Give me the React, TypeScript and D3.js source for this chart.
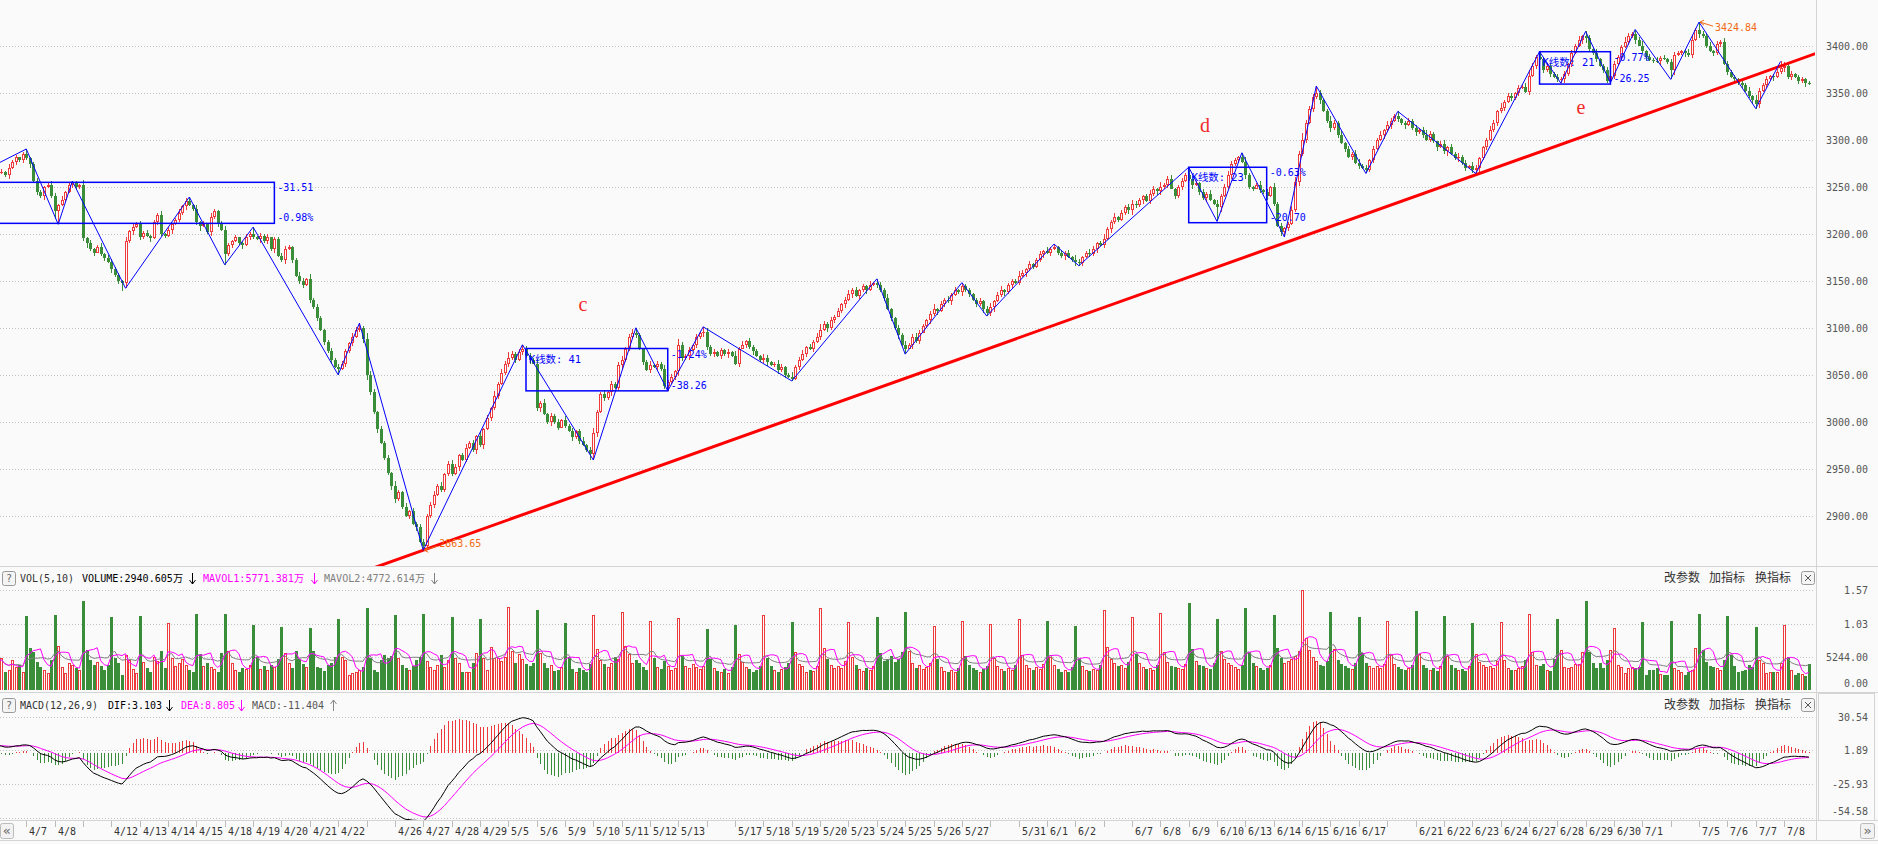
import React, { useMemo } from 'react';
import * as d3 from 'd3';

// ---------------- DATA ----------------
const dates = ['4/6','4/7','4/8','4/11','4/12','4/13','4/14','4/15','4/18','4/19','4/20','4/21','4/22','4/25','4/26','4/27','4/28','4/29','5/5','5/6','5/9','5/10','5/11','5/12','5/13','5/16','5/17','5/18','5/19','5/20','5/23','5/24','5/25','5/26','5/27','5/30','5/31','6/1','6/2','6/6','6/7','6/8','6/9','6/10','6/13','6/14','6/15','6/16','6/17','6/20','6/21','6/22','6/23','6/24','6/27','6/28','6/29','6/30','7/1','7/4','7/5','7/6','7/7','7/8'];
const hiddenDates = ['4/6','4/11','4/25','5/16','5/30','6/6','6/20','7/4'];
const BARS_PER_DAY = 8;

// 30-minute closes, one row per trading day
const closeRows: number[][] = [
  [3264,3266,3262,3270,3276,3281,3278,3285],
  [3280,3274,3256,3244,3240,3250,3252,3240],
  [3224,3230,3236,3244,3252,3254,3250,3252],
  [3195,3190,3184,3180,3186,3178,3174,3170],
  [3162,3156,3150,3148,3192,3203,3207,3210],
  [3196,3201,3198,3195,3212,3220,3200,3198],
  [3204,3210,3215,3222,3229,3235,3230,3226],
  [3212,3208,3210,3202,3218,3224,3210,3204],
  [3178,3188,3192,3196,3190,3188,3196,3200],
  [3197,3194,3198,3192,3196,3184,3194,3176],
  [3172,3184,3186,3172,3155,3150,3146,3152],
  [3130,3122,3110,3098,3085,3075,3066,3058],
  [3056,3062,3075,3084,3090,3098,3100,3088],
  [3050,3032,3010,2992,2978,2962,2946,2932],
  [2918,2925,2910,2900,2905,2892,2888,2872],
  [2868,2900,2912,2922,2932,2928,2945,2955],
  [2945,2952,2965,2960,2972,2978,2970,2985],
  [2975,2992,3004,3015,3028,3040,3052,3062],
  [3068,3072,3066,3074,3078,3070,3066,3062],
  [3015,3020,3008,3000,3006,3000,2994,3002],
  [2996,2990,2984,2990,2980,2975,2970,2966],
  [2988,3010,3030,3025,3032,3040,3036,3060],
  [3066,3078,3090,3094,3092,3078,3064,3055],
  [3060,3058,3062,3056,3038,3042,3048,3054],
  [3082,3068,3070,3076,3082,3090,3094,3096],
  [3080,3072,3074,3070,3076,3072,3074,3070],
  [3062,3078,3082,3086,3080,3075,3070,3066],
  [3068,3064,3060,3062,3055,3058,3050,3048],
  [3046,3058,3066,3072,3080,3078,3085,3090],
  [3098,3104,3100,3108,3112,3118,3125,3130],
  [3136,3140,3134,3140,3144,3140,3146,3148],
  [3146,3140,3132,3120,3110,3100,3092,3082],
  [3078,3082,3090,3086,3095,3102,3108,3115],
  [3120,3118,3125,3130,3128,3135,3140,3138],
  [3144,3140,3136,3130,3125,3128,3120,3116],
  [3122,3128,3135,3140,3138,3145,3150,3148],
  [3155,3158,3162,3168,3165,3172,3178,3182],
  [3180,3184,3186,3180,3176,3180,3175,3172],
  [3170,3169,3175,3180,3178,3184,3190,3188],
  [3194,3205,3212,3218,3215,3222,3228,3225],
  [3232,3230,3236,3240,3235,3242,3248,3245],
  [3250,3252,3258,3248,3240,3250,3256,3262],
  [3258,3252,3254,3244,3238,3242,3236,3232],
  [3228,3240,3250,3262,3274,3278,3282,3276],
  [3262,3250,3248,3252,3246,3244,3240,3250],
  [3232,3208,3202,3206,3210,3225,3255,3285],
  [3300,3318,3332,3345,3350,3342,3330,3320],
  [3312,3318,3305,3296,3290,3282,3285,3275],
  [3272,3270,3268,3278,3290,3300,3305,3310],
  [3315,3320,3325,3322,3318,3315,3320,3312],
  [3308,3310,3305,3300,3306,3298,3292,3295],
  [3288,3292,3285,3280,3282,3275,3270,3272],
  [3268,3270,3280,3292,3300,3310,3318,3330],
  [3334,3340,3346,3344,3350,3355,3356,3351],
  [3368,3378,3388,3386,3374,3378,3370,3366],
  [3364,3364,3370,3380,3392,3400,3406,3410],
  [3408,3396,3392,3386,3378,3374,3362,3368],
  [3380,3388,3398,3404,3410,3412,3406,3400],
  [3394,3388,3385,3384,3383,3387,3386,3382],
  [3374,3390,3392,3394,3392,3390,3406,3416],
  [3412,3410,3400,3394,3392,3402,3404,3380],
  [3372,3366,3364,3360,3358,3352,3346,3342],
  [3338,3352,3358,3364,3368,3366,3372,3376],
  [3378,3366,3370,3366,3362,3364,3360,3359],
];
const firstOpen = 3262;

// upper / lower shadow lengths (index points), one digit per bar
const wickUpRows = [
  '23142312','41232134','32413221','52312413','33214132','42313241','31242312','52314213',
  '42131242','51324123','43212431','52331242','43215312','64324231','53241324','42352413',
  '53124231','42315243','63241332','52413231','42312423','53241324','42353212','51324231',
  '63241323','42313241','52413231','43124312','52341324','63242313','42313241','53241232',
  '42353213','51324231','63212423','42341322','53231241','42413231','53124312','62341324',
  '43212431','52341232','63213241','42353213','53124231','42312453','73432312','53241324',
  '42313241','53241232','42353213','51324231','43212431','52341324','63241332','42313241',
  '53241232','42353213','51324231','43212453','73241324','42313241','53241232','42313212'];
const wickDnRows = [
  '31241323','24132412','83121342','35241231','42393241','32141323','24132412','35124231',
  '72312413','31423241','24131342','42313241','31423124','53241324','42313241','53241232',
  '31423124','24132412','42313241','35124231','31423126','24132412','42313241','31423124',
  '53241324','42313241','24132412','35124231','62313241','31423124','24132412','42313241',
  '31423124','24132412','42313241','35124231','31423124','24132412','42313241','31423124',
  '53241324','42313241','24132412','35124231','42313241','31423124','24132412','42313241',
  '31423124','24132412','42313241','35124231','31423124','24132412','42313241','31423124',
  '53241324','42313241','24132412','35124231','42313241','31423124','24132412','42313241'];

// volume in 万 per bar, one row per day
const volumeRows: number[][] = [
  [4500,4970,2880,3140,4700,3660,3920,2880],
  [11600,6540,6000,4450,3660,3140,2600,4700],
  [11800,6900,3660,2600,4200,3900,3400,3100],
  [13900,6280,4700,3900,4400,3700,3100,4000],
  [11500,4970,4180,2360,5500,4700,3300,2600],
  [11600,4400,3400,2900,5200,4600,6200,3500],
  [10470,5000,3700,4300,4900,3900,3200,2800],
  [11900,5600,3800,4200,3600,3300,2900,5800],
  [11900,6200,4300,3200,2800,3500,3300,3900],
  [10200,5200,3300,3800,3100,3900,3600,4800],
  [9940,5800,4200,3500,6100,4900,4100,3600],
  [9680,6180,3660,3400,3040,3920,4180,5230],
  [11150,5230,4700,2350,2620,2880,3100,3600],
  [12800,4970,3100,2880,4700,5500,4970,5340],
  [11800,4970,3900,3400,3100,3700,4700,5230],
  [11900,4500,3660,3100,3900,5500,3660,4700],
  [11500,4970,4200,2880,2880,2880,4200,5750],
  [11150,4970,3140,6800,4970,5000,4600,5200],
  [13000,6200,4300,5600,4800,4100,3700,4300],
  [12500,5800,4200,3500,3900,3000,3200,3600],
  [10500,5200,3300,2900,3500,3100,2800,4100],
  [11800,6400,4700,4100,3600,4300,5200,4800],
  [12200,6900,5600,4200,4700,4300,3600,3100],
  [10800,5000,3600,3300,4600,3800,3200,3500],
  [11300,5400,3800,3400,4100,3600,3300,3800],
  [9600,4800,3500,3000,2900,3300,2700,3600],
  [10200,5600,4400,3600,3300,2900,3200,3800],
  [11800,5100,3700,3100,2800,3300,3600,4200],
  [10600,5900,4100,3800,2900,3200,3000,3700],
  [12900,6600,4800,3900,3500,3800,3400,4500],
  [10700,5200,3900,3300,3000,3500,3100,3800],
  [11400,5800,4600,4900,5300,4400,4800,5900],
  [12300,6200,4200,3500,3900,3300,3600,4200],
  [10100,4800,3600,3000,2800,3200,2900,3500],
  [10900,5300,3900,3400,3100,2900,3300,3800],
  [10300,5100,3800,3300,3000,3400,3100,3900],
  [11200,5500,4000,3400,3200,3600,3300,4100],
  [10800,5200,3900,3300,2900,3100,2800,3600],
  [10100,4900,3700,3200,3000,3300,3100,4000],
  [12600,6800,4900,4200,3700,3900,3500,4400],
  [11500,5700,4200,3600,3300,3500,3200,4000],
  [12100,6000,4400,3800,3600,3400,3300,4100],
  [13600,6400,4500,3900,3700,3500,3300,4300],
  [11200,6100,4800,4300,4000,3600,3300,3900],
  [12800,5900,4300,3800,3500,3200,3400,4000],
  [11700,6600,5100,4200,4500,4800,5400,6200],
  [15700,8200,6300,5200,4600,4000,3800,4500],
  [12200,6400,4700,4100,3800,3500,3300,4200],
  [11400,5800,4300,3800,3500,3700,3400,4100],
  [10900,5500,4100,3600,3300,3100,3400,3900],
  [12400,5600,4000,3500,3200,3400,3000,3800],
  [11600,5300,3900,3400,3100,3300,3000,3700],
  [10500,5700,4400,3900,3600,3800,3500,4500],
  [10700,4700,3400,3140,3140,3400,3700,4700],
  [12000,6000,3920,3770,4080,3140,3040,4800],
  [11100,6280,3660,3400,3660,4080,4080,6000],
  [13900,6000,4180,3400,4180,3400,4700,6280],
  [9700,3920,3660,2620,3400,3560,3400,3660],
  [10700,2350,3140,3140,3400,2460,2350,2350],
  [10800,3400,3140,2880,2350,2880,3140,6540],
  [11900,6280,4450,3770,3660,3400,3140,4700],
  [11600,5500,3770,2880,3040,3140,3920,3660],
  [9940,4700,4180,2720,2880,2880,2880,4180],
  [10200,5230,3140,2350,2620,2500,2200,4080],
];

// swing points of the blue zig-zag: [bar, price, H/L]
const pivots: [number, number, string][] = [
  [-4, 3267, 'L'], [8, 3290, 'H'], [17, 3210, 'L'], [21, 3256, 'H'], [36, 3142, 'L'],
  [54, 3239, 'H'], [64, 3167, 'L'], [72, 3207, 'H'], [96, 3050, 'L'], [102, 3105, 'H'],
  [120, 2863.65, 'L'], [148, 3082, 'H'], [168, 2959.5, 'L'], [180, 3100, 'H'], [189, 3033, 'L'],
  [199, 3101, 'H'], [224, 3043.5, 'L'], [248, 3152, 'H'], [256, 3072, 'L'], [272, 3148, 'H'],
  [279, 3112.5, 'L'], [298, 3189, 'H'], [305, 3166, 'L'], [336, 3270.6, 'H'], [344, 3213, 'L'],
  [351, 3286, 'H'], [363, 3196.5, 'L'], [372, 3357, 'H'], [386, 3264, 'L'], [395, 3330, 'H'],
  [417, 3264, 'L'], [435, 3393.4, 'H'], [441, 3360, 'L'], [448, 3415, 'H'], [455, 3360.5, 'L'],
  [462, 3417, 'H'], [472, 3364, 'L'], [480, 3424.84, 'H'], [496, 3333, 'L'], [503, 3383, 'H'],
];

const boxStart = [-20, 149, 336, 435];
const boxEnd = [78, 189, 358, 455];
const boxTop = [3254.6, 3078, 3270.6, 3393.4];
const boxBottom = [3211, 3033, 3211.7, 3359];
const boxCount = ['', 'K线数: 41', 'K线数: 23', 'K线数: 21'];
const boxUpper = ['-31.51', '-1.24%', '-0.63%', '-0.77%'];
const boxLower = ['-0.98%', '-38.26', '-20.70', '-26.25'];

const trendAnchors: [number, number][] = [[120, 2863.65], [502.3, 3377.2]];

const waveLetters = ['c', 'd', 'e'];
const waveBars = [165.1, 340.6, 446.7];
const wavePrices = [3125.3, 3315.5, 3334.6];

const extremeLabels = [
  { bar: 120, price: 2863.65, text: '2863.65', dir: 1 },
  { bar: 480, price: 3424.84, text: '3424.84', dir: -1 },
];

const priceTicks = [3400, 3350, 3300, 3250, 3200, 3150, 3100, 3050, 3000, 2950, 2900];
const volTickValues = [15700, 10300, 5244, 0];
const volTickLabels = ['1.57', '1.03', '5244.00', '0.00'];
const macdTicks = [30.54, 1.89, -25.93, -54.58];

const macdSeed = { ema12: 3268, ema26: 3261, dea: 6 };

// ---------------- LAYOUT ----------------
const W = 1878;
const H = 844;
const PLOT_R = 1815;
const MAIN_BOTTOM = 566;
const VOL_BASE = 690;
const MACD_TOP = 692;
const MACD_BOTTOM = 820;
const BG = '#fafafa';
const RED = '#ee3a3a';
const GREEN = '#3a8e3a';
const BLUE = '#0000ff';
const MONO = "'DejaVu Sans Mono', 'Liberation Mono', 'Noto Sans CJK SC', monospace";

function textLen(s: string) {
  let n = 0;
  for (const ch of s) n += ch.charCodeAt(0) >= 0x2e80 ? 11 : 6;
  return n;
}

function T(props: { x: number; y: number; s: string; fill?: string; anchor?: string; size?: number }) {
  const { x, y, s, fill = '#333', anchor = 'start', size = 10 } = props;
  if (!s) return null;
  return (
    <text x={x} y={y} fill={fill} fontSize={size} fontFamily={MONO} textAnchor={anchor as any}
      textLength={textLen(s)} lengthAdjust="spacingAndGlyphs">{s}</text>
  );
}

function Arrow(props: { x: number; y: number; up?: boolean; color: string }) {
  const { x, y, up = false, color } = props;
  const top = y - 10, bot = y + 1;
  const cx = x + 3.5;
  return (
    <g stroke={color} strokeWidth={1} fill="none">
      <line x1={cx} y1={top} x2={cx} y2={bot} />
      {up ? (
        <polyline points={`${cx - 3},${top + 4} ${cx},${top} ${cx + 3},${top + 4}`} />
      ) : (
        <polyline points={`${cx - 3},${bot - 4} ${cx},${bot} ${cx + 3},${bot - 4}`} />
      )}
    </g>
  );
}

export default function App() {
  const d = useMemo(() => {
    const closes = closeRows.flat();
    const vols = volumeRows.flat();
    const wu = wickUpRows.join('').split('').map(Number);
    const wd = wickDnRows.join('').split('').map(Number);
    const n = closes.length;
    const opens = closes.map((c, i) => (i === 0 ? firstOpen : closes[i - 1]));
    const highs = closes.map((c, i) => Math.max(opens[i], c) + wu[i]);
    const lows = closes.map((c, i) => Math.min(opens[i], c) - wd[i]);
    for (const [b, p, t] of pivots) {
      if (b < 0 || b >= n) continue;
      if (t === 'H') highs[b] = p; else lows[b] = p;
    }
    const ma = (k: number) => vols.map((v, i) => d3.mean(vols.slice(Math.max(0, i - k + 1), i + 1)) as number);
    const ma5 = ma(5);
    const ma10 = ma(10);
    let e12 = macdSeed.ema12, e26 = macdSeed.ema26, dea = macdSeed.dea;
    const dif: number[] = [], deaArr: number[] = [], hist: number[] = [];
    closes.forEach((c) => {
      e12 = e12 + (c - e12) * 2 / 13;
      e26 = e26 + (c - e26) * 2 / 27;
      const df = e12 - e26;
      dea = dea + (df - dea) * 2 / 10;
      dif.push(df); deaArr.push(dea); hist.push(2 * (df - dea));
    });
    return { closes, opens, highs, lows, vols, ma5, ma10, dif, dea: deaArr, hist, n };
  }, []);

  const x = d3.scaleLinear().domain([0, 511]).range([-2.05, 1808.9]);
  const yP = d3.scaleLinear().domain([2900, 3400]).range([516.0, 45.5]);
  const yV = d3.scaleLinear().domain([0, 15700]).range([VOL_BASE, 590]);
  const yM = d3.scaleLinear().domain([-54.58, 30.54]).range([817.5, 716.5]);

  const idx = d3.range(d.n);

  const candles = idx.map((i) => {
    const cx = Math.round(x(i));
    if (cx < -3 || cx > PLOT_R + 2) return null;
    const o = d.opens[i], c = d.closes[i];
    const up = c >= o;
    const yh = Math.round(yP(d.highs[i]));
    const yl = Math.round(yP(d.lows[i]));
    const yt = Math.round(yP(Math.max(o, c)));
    const yb = Math.round(yP(Math.min(o, c)));
    const bh = Math.max(1, yb - yt);
    const col = up ? RED : GREEN;
    return (
      <g key={i}>
        <rect x={cx} y={yh} width={1} height={Math.max(1, yl - yh)} fill={col} />
        <rect x={cx - 1} y={yt} width={3} height={bh} fill={col} />
        {up && bh > 2 ? <rect x={cx} y={yt + 1} width={1} height={bh - 2} fill={BG} /> : null}
      </g>
    );
  });

  const volBars = idx.map((i) => {
    const cx = Math.round(x(i));
    if (cx < -3 || cx > PLOT_R + 2) return null;
    const up = d.closes[i] >= d.opens[i];
    const yt = Math.round(yV(d.vols[i]));
    const h = VOL_BASE - yt;
    return (
      <g key={i}>
        <rect x={cx - 1} y={yt} width={3} height={h} fill={up ? RED : GREEN} />
        {up && h > 1 ? <rect x={cx} y={yt + 1} width={1} height={h - 1} fill={BG} /> : null}
      </g>
    );
  });

  const y0 = yM(0);
  const histBars = idx.map((i) => {
    const cx = Math.round(x(i));
    if (cx < -3 || cx > PLOT_R + 2) return null;
    const v = d.hist[i];
    const yv = yM(v);
    return <rect key={i} x={cx} y={Math.min(y0, yv)} width={1} height={Math.max(0.5, Math.abs(yv - y0))} fill={v >= 0 ? RED : GREEN} />;
  });

  const lineV = (arr: number[]) => d3.line<number>().x((_, i) => x(i)).y((v) => yV(v))(arr) || '';
  const lineM = (arr: number[]) => d3.line<number>().x((_, i) => x(i)).y((v) => yM(v))(arr) || '';

  const zig = d3.line<[number, number, string]>().x((p) => x(p[0])).y((p) => yP(p[1]))(pivots) || '';

  const [ta, tb] = trendAnchors;
  const slope = (tb[1] - ta[1]) / (tb[0] - ta[0]);
  const tPrice = (b: number) => ta[1] + (b - ta[0]) * slope;
  const trendL = 90, trendR = 520;

  const dayTicks = dates.map((s, k) => ({ s, k, px: Math.round(x(k * BARS_PER_DAY)) }));

  const dotted = (y: number, key: string) => (
    <line key={key} x1={0} x2={PLOT_R} y1={Math.round(y) + 0.5} y2={Math.round(y) + 0.5} stroke="#c4c4c4" strokeDasharray="1,2" />
  );

  const CJKF = "'Noto Sans CJK SC', sans-serif";
  const headerBtns = (y: number) => (
    <g>
      <text x={1664} y={y + 4} fontSize={12} fill="#333" fontFamily={CJKF}>改参数</text>
      <text x={1709} y={y + 4} fontSize={12} fill="#333" fontFamily={CJKF}>加指标</text>
      <text x={1755} y={y + 4} fontSize={12} fill="#333" fontFamily={CJKF}>换指标</text>
      <rect x={1801.5} y={y - 6.5} width={13} height={13} rx={2} fill="#f4f4f4" stroke="#999" />
      <line x1={1805} y1={y - 3} x2={1811} y2={y + 3} stroke="#555" />
      <line x1={1811} y1={y - 3} x2={1805} y2={y + 3} stroke="#555" />
    </g>
  );

  const qBox = (y: number) => (
    <g>
      <rect x={2.5} y={y - 6.5} width={13} height={14} rx={2} fill="#f4f4f4" stroke="#999" />
      <text x={9} y={y + 4} fontSize={10} fill="#666" textAnchor="middle" fontFamily={MONO}>?</text>
    </g>
  );

  return (
    <div style={{ position: 'absolute', left: 0, top: 0, width: W, height: H, background: BG }}>
      <svg width={W} height={H} style={{ display: 'block' }}>
        <defs>
          <clipPath id="mainClip"><rect x={0} y={0} width={PLOT_R} height={MAIN_BOTTOM} /></clipPath>
          <clipPath id="volClip"><rect x={0} y={588} width={PLOT_R} height={VOL_BASE - 588} /></clipPath>
          <clipPath id="macdClip"><rect x={0} y={MACD_TOP + 1} width={PLOT_R} height={MACD_BOTTOM - MACD_TOP - 1} /></clipPath>
        </defs>
        <rect x={0} y={0} width={W} height={H} fill={BG} />

        {priceTicks.map((p) => dotted(yP(p), 'gp' + p))}
        {volTickValues.slice(0, 3).map((v) => dotted(yV(v), 'gv' + v))}
        {macdTicks.map((v) => dotted(yM(v), 'gm' + v))}

        <g clipPath="url(#mainClip)" shapeRendering="crispEdges">{candles}</g>
        <g clipPath="url(#mainClip)">
          <line x1={x(trendL)} y1={yP(tPrice(trendL))} x2={x(trendR)} y2={yP(tPrice(trendR))} stroke="#ff0000" strokeWidth={3} />
          <path d={zig} fill="none" stroke={BLUE} strokeWidth={1} />
          {boxStart.map((b0, k) => {
            const x0 = x(b0), x1 = x(boxEnd[k]);
            const yt = yP(boxTop[k]), yb = yP(boxBottom[k]);
            return (
              <g key={'box' + k}>
                <rect x={x0} y={yt} width={x1 - x0} height={yb - yt} fill="none" stroke={BLUE} strokeWidth={1.5} />
                <T x={x0 + 3} y={yt + 14} s={boxCount[k]} fill={BLUE} />
                <T x={x1 + 3} y={yt + 9} s={boxUpper[k]} fill={BLUE} />
                <T x={x1 + 3} y={yb - 2} s={boxLower[k]} fill={BLUE} />
              </g>
            );
          })}
          {extremeLabels.map((e, k) => {
            const px = x(e.bar), py = yP(e.price);
            const ex = px + 14, ey = py - 4 * e.dir;
            return (
              <g key={'ex' + k}>
                <line x1={px + 1} y1={py} x2={ex} y2={ey} stroke="#f06a14" strokeWidth={1} />
                <line x1={px + 1} y1={py} x2={px + 5} y2={py - 3 * e.dir} stroke="#f06a14" />
                <line x1={px + 1} y1={py} x2={px + 5} y2={py + 2 * e.dir} stroke="#f06a14" />
                <T x={ex + 2} y={ey + (e.dir > 0 ? 1 : 5)} s={e.text} fill="#f06a14" />
              </g>
            );
          })}
          {waveLetters.map((s, k) => (
            <text key={'w' + k} x={x(waveBars[k])} y={yP(wavePrices[k])} fontSize={20} fill="#f22a2a"
              textAnchor="middle" dominantBaseline="central" fontFamily="'Liberation Serif', serif">{s}</text>
          ))}
        </g>

        <g clipPath="url(#volClip)" shapeRendering="crispEdges">{volBars}</g>
        <g clipPath="url(#volClip)">
          <path d={lineV(d.ma10)} fill="none" stroke="#808080" strokeWidth={1} />
          <path d={lineV(d.ma5)} fill="none" stroke="#ff00ff" strokeWidth={1} />
        </g>

        <g clipPath="url(#macdClip)" shapeRendering="crispEdges">{histBars}</g>
        <g clipPath="url(#macdClip)">
          <path d={lineM(d.dea)} fill="none" stroke="#ff00ff" strokeWidth={1} />
          <path d={lineM(d.dif)} fill="none" stroke="#000" strokeWidth={1} />
        </g>

        <g shapeRendering="crispEdges" stroke="#d4d4d4">
          <line x1={0} x2={W} y1={MAIN_BOTTOM + 0.5} y2={MAIN_BOTTOM + 0.5} />
          <line x1={0} x2={W} y1={MACD_TOP + 0.5} y2={MACD_TOP + 0.5} />
          <line x1={0} x2={W} y1={MACD_BOTTOM + 0.5} y2={MACD_BOTTOM + 0.5} />
          <line x1={0} x2={W} y1={840.5} y2={840.5} />
          <line x1={PLOT_R + 1.5} x2={PLOT_R + 1.5} y1={0} y2={840} />
          <rect x={1818.5} y={MACD_TOP + 1.5} width={56} height={MACD_BOTTOM - MACD_TOP - 1.5} fill="none" />
        </g>

        {qBox(578)}
        <T x={20} y={582} s="VOL(5,10)" fill="#333" />
        <T x={82} y={582} s="VOLUME:2940.605万" fill="#000" />
        <Arrow x={189} y={583} color="#000" />
        <T x={203} y={582} s="MAVOL1:5771.381万" fill="#ff00ff" />
        <Arrow x={311} y={583} color="#ff00ff" />
        <T x={324} y={582} s="MAVOL2:4772.614万" fill="#808080" />
        <Arrow x={431} y={583} color="#808080" />
        {headerBtns(578)}

        {qBox(705)}
        <T x={20} y={709} s="MACD(12,26,9)" fill="#333" />
        <T x={108} y={709} s="DIF:3.103" fill="#000" />
        <Arrow x={166} y={710} color="#000" />
        <T x={181} y={709} s="DEA:8.805" fill="#ff00ff" />
        <Arrow x={238} y={710} color="#ff00ff" />
        <T x={252} y={709} s="MACD:-11.404" fill="#555" />
        <Arrow x={330} y={710} up color="#888" />
        {headerBtns(705)}

        {priceTicks.map((p) => <T key={'pl' + p} x={1868} y={yP(p) + 4} s={p.toFixed(2)} fill="#555" anchor="end" />)}
        {volTickValues.map((v, k) => (
          <T key={'vl' + k} x={1868} y={yV(v) + 4 - (v === 0 ? 7 : 0)} s={volTickLabels[k]} fill="#555" anchor="end" />
        ))}
        {macdTicks.map((v, k) => (
          <T key={'ml' + k} x={1868} y={yM(v) + 4 - (k === macdTicks.length - 1 ? 7 : 0)} s={v.toFixed(2)} fill="#555" anchor="end" />
        ))}

        <g shapeRendering="crispEdges">
          {dayTicks.map((t) => (t.px > 0 ? <line key={'t' + t.k} x1={t.px + 0.5} x2={t.px + 0.5} y1={821} y2={827} stroke="#bbb" /> : null))}
        </g>
        {dayTicks.filter((t) => hiddenDates.indexOf(t.s) < 0).map((t) => (
          <T key={'xl' + t.k} x={t.px + 3} y={835} s={t.s} fill="#333" />
        ))}
        <rect x={0.5} y={823.5} width={13} height={15} rx={2} fill="#f2f2f2" stroke="#bbb" />
        <text x={7} y={835} fontSize={13} textAnchor="middle" fill="#666" fontFamily={MONO}>«</text>
        <rect x={1860.5} y={823.5} width={14} height={15} rx={2} fill="#f2f2f2" stroke="#bbb" />
        <text x={1867.5} y={835} fontSize={13} textAnchor="middle" fill="#666" fontFamily={MONO}>»</text>
      </svg>
    </div>
  );
}
